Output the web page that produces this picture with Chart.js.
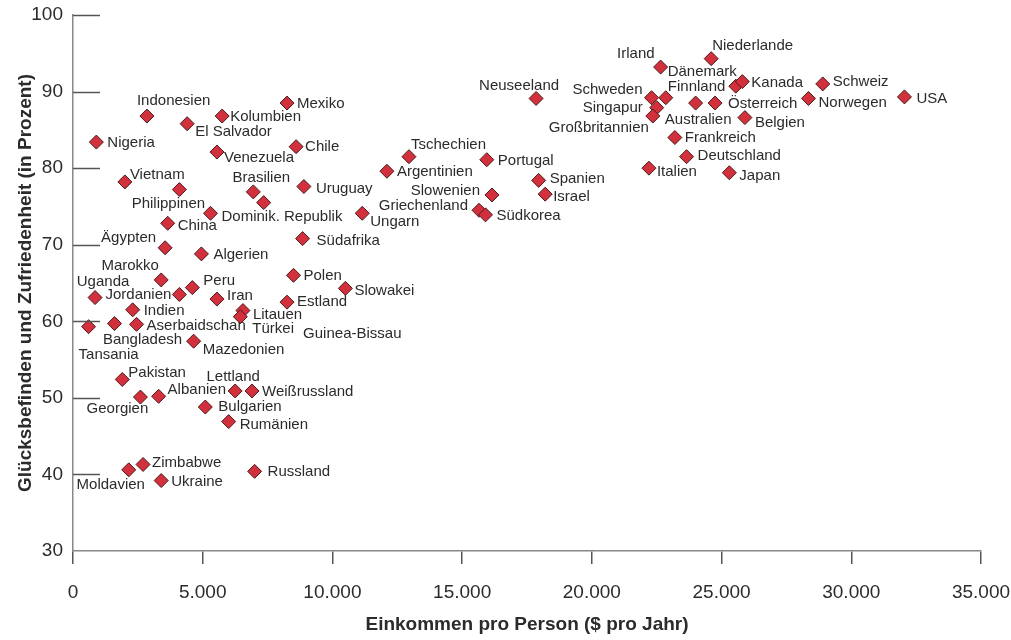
<!DOCTYPE html>
<html lang="de">
<head>
<meta charset="utf-8">
<title>Glücksbefinden und Einkommen</title>
<script src="https://cdn.jsdelivr.net/npm/chart.js@4.4.1/dist/chart.umd.min.js"></script>
<style>
  html, body { margin: 0; padding: 0; background: #fff; }
</style>
</head>
<body>
<canvas id="myChart" width="1011" height="640"></canvas>
<script>
const countries = [
  "Nigeria", "Indonesien", "El Salvador", "Kolumbien", "Mexiko", "Venezuela", "Chile",
  "Vietnam", "Philippinen", "Brasilien", "", "Uruguay", "Dominik. Republik", "China",
  "Ägypten", "Algerien", "Südafrika", "Polen", "Slowakei", "Estland", "Litauen", "Türkei",
  "Marokko", "Uganda", "Jordanien", "Peru", "Iran", "Indien", "Tansania", "Bangladesh",
  "Aserbaidschan", "Mazedonien", "Pakistan", "Georgien", "Albanien", "Lettland",
  "Weißrussland", "Bulgarien", "Rumänien", "Zimbabwe", "Moldavien", "Ukraine", "Russland",
  "Irland", "Niederlande", "Neuseeland", "Schweden", "Australien", "Singapur",
  "Großbritannien", "Finnland", "Österreich", "Dänemark", "Kanada", "Schweiz", "Norwegen",
  "USA", "Belgien", "Frankreich", "Deutschland", "Italien", "Japan", "Tschechien",
  "Argentinien", "Portugal", "Spanien", "Israel", "Slowenien", "Griechenland", "Südkorea",
  "Ungarn", "Guinea-Bissau"
];
const income = [
  900, 2850, 4400, 5750, 8250, 5550, 8600,
  2000, 4100, 6950, 7350, 8900, 5300, 3650,
  3550, 4950, 8850, 8500, 10500, 8250, 6550, 6450,
  3400, 850, 4100, 4600, 5550, 2300, 600, 1600,
  2450, 4650, 1900, 2600, 3300, 6250,
  6900, 5100, 6000, 2700, 2150, 3400, 7000,
  22650, 24600, 17850, 22300, 22850, 22500,
  22350, 24000, 24750, 25550, 25800, 28900, 28350,
  32050, 25900, 23200, 23650, 22200, 25300, 12950,
  12100, 15950, 17950, 18200, 16150, 15650, 15900,
  11150, 8600
];
const happiness = [
  83.4, 86.8, 85.8, 86.8, 88.5, 82.1, 82.8,
  78.2, 77.2, 76.9, 75.5, 77.6, 74.1, 72.8,
  69.6, 68.8, 70.8, 66.0, 64.3, 62.5, 61.4, 60.6,
  65.4, 63.1, 63.5, 64.4, 62.9, 61.5, 59.3, 59.7,
  59.6, 57.4, 52.4, 50.1, 50.2, 50.9,
  50.9, 48.8, 46.9, 41.3, 40.6, 39.2, 40.4,
  93.2, 94.3, 89.1, 89.2, 89.2, 87.9,
  86.8, 88.5, 88.5, 90.7, 91.3, 91.0, 89.1,
  89.3, 86.6, 84.0, 81.5, 80.0, 79.4, 81.5,
  79.6, 81.1, 78.4, 76.6, 76.5, 74.5, 73.9,
  74.1, 58.3
];
const xTicks = [0, 5000, 10000, 15000, 20000, 25000, 30000, 35000];
const yTicks = [30, 40, 50, 60, 70, 80, 90, 100];

// countries drawn without a marker (label only, as in the printed figure)
const noMarker = ["Guinea-Bissau"];

// label placement: [dx, dy, align] relative to the marker centre
const labelPos = {
  "Nigeria": [11, 1, "left"], "Indonesien": [-10, -15, "left"], "El Salvador": [8, 8, "left"],
  "Kolumbien": [8, 1, "left"], "Mexiko": [10, 1, "left"], "Venezuela": [7, 6, "left"],
  "Chile": [9, 0, "left"], "Vietnam": [5, -7, "left"], "Philippinen": [-11, 14, "center"],
  "Brasilien": [8, -14, "center"], "Uruguay": [12, 2, "left"], "Dominik. Republik": [11, 4, "left"],
  "China": [10, 3, "left"], "Ägypten": [-9, -10, "right"], "Algerien": [12, 1, "left"],
  "Südafrika": [14, 2, "left"], "Polen": [10, 1, "left"], "Slowakei": [9, 2, "left"],
  "Estland": [10, 0, "left"], "Litauen": [10, 4, "left"], "Türkei": [12, 12, "left"],
  "Marokko": [-31, -14, "center"], "Uganda": [8, -16, "center"], "Jordanien": [-8, 0, "right"],
  "Peru": [11, -7, "left"], "Iran": [10, -3, "left"], "Indien": [11, 1, "left"],
  "Tansania": [20, 28, "center"], "Bangladesh": [28, 16, "center"], "Aserbaidschan": [10, 2, "left"],
  "Mazedonien": [9, 9, "left"], "Pakistan": [6, -7, "left"], "Georgien": [-23, 12, "center"],
  "Albanien": [9, -6, "left"], "Lettland": [-2, -14, "center"], "Weißrussland": [10, 1, "left"],
  "Bulgarien": [13, 0, "left"], "Rumänien": [11, 3, "left"], "Zimbabwe": [9, -2, "left"],
  "Moldavien": [-18, 15, "center"], "Ukraine": [10, 1, "left"], "Russland": [13, 0, "left"],
  "Irland": [-6, -13, "right"], "Niederlande": [1, -13, "left"], "Neuseeland": [-17, -13, "center"],
  "Schweden": [-9, -8, "right"], "Australien": [-1, 22, "left"], "Singapur": [-14, 0, "right"],
  "Großbritannien": [-4, 12, "right"], "Finnland": [1, -16, "center"], "Österreich": [13, 1, "left"],
  "Dänemark": [1, -14, "right"], "Kanada": [9, 1, "left"], "Schweiz": [10, -2, "left"],
  "Norwegen": [10, 4, "left"], "USA": [12, 2, "left"], "Belgien": [10, 5, "left"],
  "Frankreich": [10, 0, "left"], "Deutschland": [11, -1, "left"], "Italien": [8, 4, "left"],
  "Japan": [10, 3, "left"], "Tschechien": [2, -12, "left"], "Argentinien": [10, 1, "left"],
  "Portugal": [11, 1, "left"], "Spanien": [11, -2, "left"], "Israel": [8, 3, "left"],
  "Slowenien": [-12, -4, "right"], "Griechenland": [-11, -4, "right"], "Südkorea": [11, 1, "left"],
  "Ungarn": [8, 9, "left"], "Guinea-Bissau": [7, 0, "left"]
};

const textColor = "#2b2b2b";
const fontFamily = '"Liberation Sans", Arial, Helvetica, sans-serif';

const formatThousands = (v) => String(v).replace(/\B(?=(\d{3})+(?!\d))/g, ".");

// short y tick marks that point into the plot
const yTickMarks = {
  id: "yTickMarks",
  afterDraw(chart) {
    const { ctx, chartArea, scales } = chart;
    ctx.save();
    ctx.strokeStyle = "#555";
    ctx.lineWidth = 1.5;
    yTicks.forEach((v) => {
      if (v === scales.y.min) return;
      const y = Math.round(scales.y.getPixelForValue(v)) + 0.5;
      ctx.beginPath();
      ctx.moveTo(chartArea.left, y);
      ctx.lineTo(chartArea.left + 27, y);
      ctx.stroke();
    });
    ctx.restore();
  }
};

const pointLabels = {
  id: "pointLabels",
  afterDatasetsDraw(chart) {
    const { ctx } = chart;
    const meta = chart.getDatasetMeta(0);
    ctx.save();
    ctx.font = "15px " + fontFamily;
    ctx.fillStyle = textColor;
    ctx.textBaseline = "middle";
    meta.data.forEach((pt, i) => {
      const name = countries[i];
      if (!name) return;
      const [dx, dy, align] = labelPos[name] || [10, 0, "left"];
      ctx.textAlign = align;
      ctx.fillText(name, pt.x + dx, pt.y + dy);
    });
    ctx.restore();
  }
};

const ctx = document.getElementById("myChart").getContext("2d");

const myChart = new Chart(ctx, {
  type: "scatter",
  data: {
    datasets: [
      {
        label: "Länder",
        data: countries.map((c, i) => ({ x: income[i], y: happiness[i] })),
        pointStyle: "rectRot",
        pointRadius: (c) => (noMarker.includes(countries[c.dataIndex]) ? 0 : 7),
        pointHoverRadius: (c) => (noMarker.includes(countries[c.dataIndex]) ? 0 : 7),
        backgroundColor: "#d3303d",
        borderColor: "#4a1a1a",
        borderWidth: 1,
      },
    ],
  },
  options: {
    responsive: false,
    animation: false,
    layout: { padding: { top: 15, right: 30, left: 0, bottom: 0 } },
    plugins: {
      legend: { display: false },
      tooltip: { enabled: false },
    },
    scales: {
      x: {
        type: "linear",
        min: 0,
        max: 35000,
        afterFit: (s) => {
          s.height = 89;
          s.paddingLeft = 0;
          s.paddingRight = 0;
        },
        afterBuildTicks: (s) => { s.ticks = xTicks.map((v) => ({ value: v })); },
        grid: {
          display: true,
          drawOnChartArea: false,
          drawTicks: true,
          tickLength: 13,
          color: "#555",
          lineWidth: 1.5,
        },
        border: { display: true, color: "#888", width: 1.5 },
        ticks: {
          padding: 17,
          color: textColor,
          font: { family: fontFamily, size: 19 },
          maxRotation: 0,
          callback: (v) => formatThousands(v),
        },
        title: {
          display: true,
          text: "Einkommen pro Person ($ pro Jahr)",
          color: textColor,
          font: { family: fontFamily, size: 19, weight: "bold" },
          padding: { top: 0, bottom: 4 },
        },
      },
      y: {
        type: "linear",
        min: 30,
        max: 100,
        afterFit: (s) => {
          s.width = 73;
          s.paddingTop = 0;
          s.paddingBottom = 0;
        },
        afterBuildTicks: (s) => { s.ticks = yTicks.map((v) => ({ value: v })); },
        grid: { display: false, drawTicks: false },
        border: { display: true, color: "#888", width: 1.5 },
        ticks: {
          padding: 10,
          color: textColor,
          font: { family: fontFamily, size: 19 },
        },
        title: {
          display: true,
          text: "Glücksbefinden und Zufriedenheit (in Prozent)",
          color: textColor,
          font: { family: fontFamily, size: 19, weight: "bold" },
          padding: { top: 14, bottom: 0 },
        },
      },
    },
  },
  plugins: [yTickMarks, pointLabels],
});
</script>
</body>
</html>
